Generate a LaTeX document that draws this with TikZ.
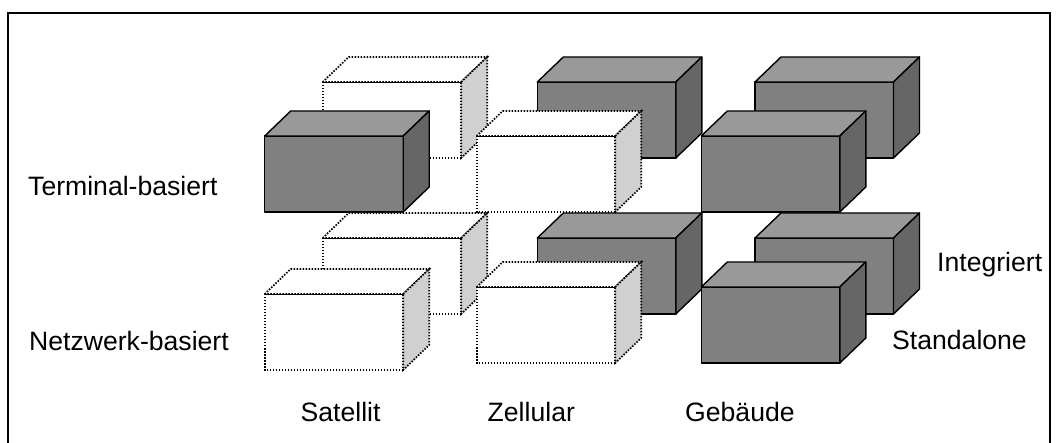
\documentclass[tikz,border=0pt]{standalone}
\usepackage{fontspec}
\setmainfont{Liberation Sans}
\definecolor{cubefront}{HTML}{808080}
\definecolor{cubetop}{HTML}{999999}
\definecolor{cubeside}{HTML}{666666}
\definecolor{ghostside}{HTML}{D0D0D0}

% One cuboid: #1 = look (solidcube / ghostcube), (#2,#3) = top-left corner of its front face
\newcommand\quader[3]{%
  \begin{scope}[shift={(#2,#3)}, #1]
    \path[frontface] (0,0) rectangle (138.5,76);
    \path[topface] (0,0) -- (26,-25) -- (164.5,-25) -- (138.5,0) -- cycle;
    \path[sideface] (138.5,0) -- (164.5,-25) -- (164.5,51) -- (138.5,76) -- cycle;
  \end{scope}}

\begin{document}
\begin{tikzpicture}[
  x=1pt, y=-1pt,
  edge/.style={draw=black, line width=1.4pt, line join=round},
  dotedge/.style={draw=black, line width=1.7pt, dash pattern=on 1.5pt off 1.5pt},
  solidcube/.style={
    frontface/.style={edge, fill=cubefront},
    topface/.style={edge, fill=cubetop},
    sideface/.style={edge, fill=cubeside}},
  ghostcube/.style={
    frontface/.style={dotedge, fill=white},
    topface/.style={dotedge, fill=white},
    sideface/.style={dotedge, fill=ghostside}},
  label/.style={anchor=base west, inner sep=0pt, font=\fontsize{26.6}{32}\selectfont}
]
\useasboundingbox (0,0) rectangle (1057,443);

% frame
\draw[line width=1.3pt] (8,443) -- (8,13) -- (1050,13) -- (1050,443);

% upper level, rear row
\quader{ghostcube}{322.7}{82}
\quader{solidcube}{537.3}{82}
\quader{solidcube}{755}{82}
% upper level, front row
\quader{solidcube}{264.7}{136}
\quader{ghostcube}{476.7}{136}
\quader{solidcube}{701.3}{136}
% lower level, rear row
\quader{ghostcube}{322.7}{238}
\quader{solidcube}{537.3}{238}
\quader{solidcube}{755}{238}
% lower level, front row
\quader{ghostcube}{264.7}{294}
\quader{ghostcube}{476.7}{287}
\quader{solidcube}{701.3}{287}

% axis labels
\node[label] (terminal) at (28,196) {Terminal-basiert};
\node[label] (netzwerk) at (29,350.5) {Netzwerk-basiert};
\node[label] (integriert) at (937,271.5) {Integriert};
\node[label] (standalone) at (892,350) {Standalone};
\node[label] (satellit) at (300.5,421) {Satellit};
\node[label] (zellular) at (487.5,421) {Zellular};
\node[label] (gebaeude) at (685,421) {Gebäude};
\end{tikzpicture}
\end{document}
